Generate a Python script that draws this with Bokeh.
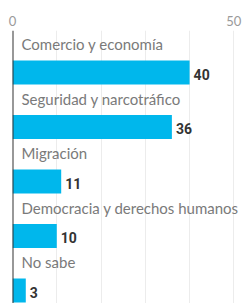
from bokeh.plotting import figure
from bokeh.models import ColumnDataSource, Range1d, FixedTicker, Span
from bokeh.core.properties import value
from bokeh.embed import file_html
from bokeh.resources import INLINE

categories = ["Comercio y economía", "Seguridad y narcotráfico", "Migración",
              "Democracia y derechos humanos", "No sabe"]
values = [40, 36, 11, 10, 3]
axis_ticks = [0, 50]
grid_ticks = [10, 20, 30, 40, 50]

idx = list(range(len(categories)))
src = ColumnDataSource(dict(y=idx, v=values, cat=categories,
                            lab=[str(v) for v in values], zero=[0] * len(values)))

p = figure(width=244, height=303, output_backend="svg", toolbar_location=None,
           x_range=Range1d(0, 52.4), y_range=Range1d(4.24, -0.77),
           x_axis_location="above", y_axis_location=None,
           min_border_left=12, min_border_right=0, min_border_top=30, min_border_bottom=0)
p.outline_line_color = None
p.background_fill_color = "white"
p.border_fill_color = "white"

ax = p.xaxis[0]
ax.ticker = FixedTicker(ticks=axis_ticks)
ax.axis_line_color = None
ax.major_tick_line_color = None
ax.minor_tick_line_color = None
ax.major_tick_out = 0
ax.major_tick_in = 0
ax.major_label_text_font = "Lato"
ax.major_label_text_font_size = "13px"
ax.major_label_text_color = "#9a9a9a"
ax.major_label_standoff = 5

p.xgrid.ticker = FixedTicker(ticks=grid_ticks)
p.xgrid.grid_line_color = "#ececec"
p.ygrid.grid_line_color = None

p.hbar(y="y", left=0, right="v", height=0.44, source=src,
       fill_color="#00b7ec", line_color=None)

p.add_layout(Span(location=0, dimension="height", line_color="#333333", line_width=2))

p.text(x="zero", y="y", text="cat", source=src, x_offset=9, y_offset=-28,
       text_baseline="middle", text_align="left", text_font=value("Lato"),
       text_font_size="15px", text_color="#7a7a7a")
p.text(x="v", y="y", text="lab", source=src, x_offset=4, y_offset=2,
       text_baseline="middle", text_align="left", text_font=value("Roboto"),
       text_font_style="bold", text_font_size="14px", text_color="#333333")

open("out.html", "w").write(file_html(p, INLINE))
